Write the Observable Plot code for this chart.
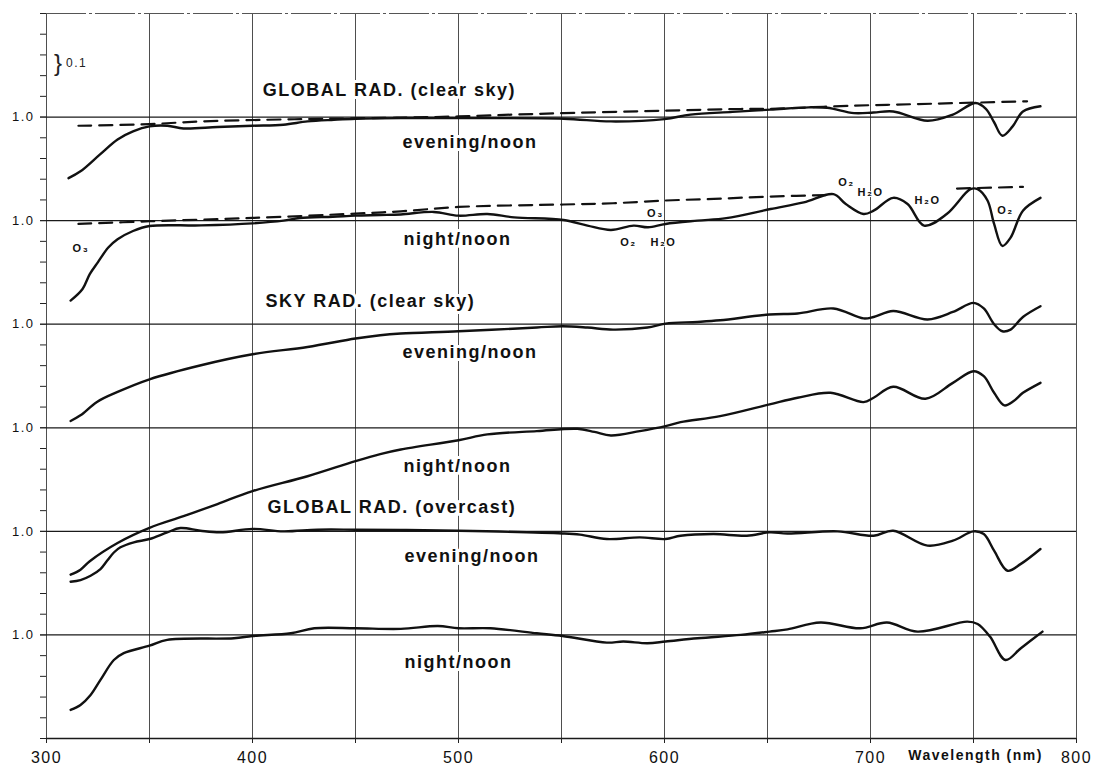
<!DOCTYPE html>
<html>
<head>
<meta charset="utf-8">
<script src="https://cdn.jsdelivr.net/npm/d3@7"></script>
<script src="https://cdn.jsdelivr.net/npm/@observablehq/plot@0.6"></script>
<style>
  html, body { margin: 0; padding: 0; background: #fff; }
  #chart svg { display: block; }
</style>
</head>
<body>
<div id="chart"></div>
<script>
// ---- Data (wavelength nm, ratio) ----
// Panel 1: GLOBAL RAD. (clear sky) evening/noon
const globalClearEvening = [[310.7,0.705],[316.5,0.738],[326,0.82],[334.5,0.892],[342,0.931],[350,0.955],[358.7,0.958],[366.5,0.945],[383,0.952],[400,0.958],[415,0.963],[426.7,0.979],[439.5,0.987],[450,0.992],[472,0.995],[500,0.995],[551,0.992],[574,0.979],[600,0.99],[612.6,1.012],[633,1.025],[651.5,1.036],[670,1.047],[679,1.045],[692,1.019],[701.5,1.022],[711,1.027],[727.7,0.982],[740,1.012],[751,1.068],[756,1.04],[760,0.975],[764,0.91],[769,0.955],[774,1.027],[782.5,1.052]];
const globalClearEveningDashed = [[315.5,0.958],[350,0.966],[375,0.979],[407,0.987],[436,0.992],[470,0.997],[500,1.003],[527,1.012],[551,1.019],[600,1.031],[637,1.039],[651,1.04],[692,1.055],[732,1.065],[776,1.076]];
// Panel 2: night/noon
const globalClearNight = [[311.7,0.614],[317.5,0.67],[321,0.742],[325,0.8],[330,0.87],[334.5,0.91],[342,0.95],[350,0.974],[375,0.977],[400,0.987],[415,1.0],[423,1.013],[439,1.019],[450,1.024],[462,1.027],[472,1.03],[488,1.042],[500,1.024],[514,1.032],[527,1.016],[551,1.003],[562.6,0.976],[574,0.955],[585,0.976],[592,0.968],[600.5,0.984],[616,1.0],[630,1.012],[651.5,1.056],[667.6,1.088],[682,1.128],[688,1.08],[696.6,1.032],[701.5,1.048],[711,1.11],[718,1.08],[726,0.976],[737,1.032],[748.5,1.152],[752,1.152],[756.8,1.097],[760,0.984],[764,0.878],[768,0.918],[774,1.048],[782.5,1.11]];
const globalClearNightDashed = [[315.5,0.984],[350,0.997],[400,1.013],[450,1.034],[472,1.045],[500,1.066],[551,1.078],[575,1.084],[600,1.097],[624,1.105],[651,1.116],[682,1.124],[712,NaN],[742,1.155],[774,1.163]];
// Panel 3: SKY RAD. (clear sky) evening/noon
const skyClearEvening = [[311.7,0.533],[316.5,0.56],[324.5,0.625],[334.5,0.673],[350,0.734],[375,0.802],[400,0.855],[426.7,0.89],[450,0.931],[462,0.947],[472,0.955],[500,0.966],[538,0.984],[550.5,0.99],[562.6,0.984],[575,0.974],[591.7,0.984],[600.5,1.003],[616,1.011],[627,1.019],[651,1.047],[664.6,1.052],[682,1.076],[696.6,1.028],[701.5,1.035],[711,1.064],[727.7,1.023],[740,1.059],[750,1.103],[755,1.076],[760,1.0],[764,0.966],[768,0.974],[774,1.035],[782.5,1.087]];
// Panel 4: night/noon
const skyClearNight = [[311.7,0.291],[316.5,0.315],[321,0.356],[334.5,0.444],[350,0.517],[366.5,0.573],[383,0.632],[400,0.694],[426.7,0.766],[450,0.839],[462,0.873],[472,0.895],[500,0.94],[514,0.968],[538,0.984],[557.7,0.995],[566,0.98],[574,0.963],[588,0.984],[600.5,1.008],[607.8,1.027],[627,1.056],[651,1.113],[664.6,1.145],[680.6,1.169],[696.6,1.124],[701.5,1.145],[711,1.198],[726.7,1.14],[740,1.217],[750,1.273],[755,1.249],[760,1.169],[765,1.108],[769.5,1.129],[774,1.169],[782.5,1.217]];
// Panel 5: GLOBAL RAD. (overcast) evening/noon
const globalOvercastEvening = [[311.7,0.757],[316.5,0.765],[321.4,0.786],[326.2,0.818],[329.4,0.858],[332.7,0.898],[335.9,0.923],[342.4,0.947],[350,0.963],[358.6,0.995],[365,1.016],[374.7,1.003],[384.4,0.995],[400,1.012],[415,1.0],[431.5,1.008],[450,1.008],[472,1.007],[500,1.003],[550.5,0.99],[559,0.984],[572,0.963],[588,0.971],[600.5,0.963],[607.8,0.979],[623.8,0.987],[640,0.979],[651,0.995],[659.7,0.99],[684,1.0],[701.5,0.979],[711,1.003],[727.7,0.931],[740,0.955],[750,1.0],[755,0.987],[760,0.907],[766.5,0.81],[773,0.843],[782.5,0.915]];
// Panel 6: night/noon
const globalOvercastNight = [[311.7,0.638],[316.5,0.662],[321.4,0.71],[326.2,0.783],[332.7,0.879],[337.5,0.912],[350,0.948],[358.6,0.976],[391,0.984],[400,0.995],[418.6,1.008],[430,1.032],[450,1.032],[472,1.029],[490,1.043],[500,1.032],[515.5,1.032],[538,1.008],[550.5,0.995],[572,0.963],[580,0.968],[591.7,0.96],[600.5,0.968],[616,0.984],[637,1.0],[651,1.016],[659.7,1.027],[675.7,1.06],[695,1.032],[708,1.06],[722.8,1.016],[747,1.064],[752,1.053],[758,0.992],[765.5,0.879],[773,0.936],[783.5,1.016]];

const wavelengthLabels = [300, 400, 500, 600, 700, 800];
const gridWavelengths = [300, 350, 400, 450, 500, 550, 600, 650, 700, 750, 800];
const baselineLabel = "1.0";
const panelCount = 6;

// ---- Layout of the stacked panels (each panel shifted by 0.5) ----
const step = 0.5;
const solidSeries = [globalClearEvening, globalClearNight, skyClearEvening, skyClearNight, globalOvercastEvening, globalOvercastNight];
const dashedSeries = [[0, globalClearEveningDashed], [1, globalClearNightDashed]];

const solidRows = solidSeries.flatMap((s, k) => s.map(([wl, v]) => ({k, wl, y: v - step * k})));
const dashedRows = dashedSeries.flatMap(([k, s]) => s.map(([wl, v]) => ({k, wl, y: v - step * k})));
const baselines = d3.range(panelCount).map(k => 1 - step * k);
const yTop = 1 + step, yBottom = 1 - step * panelCount;
const minorTicks = d3.range(Math.round(yBottom * 10), Math.round(yTop * 10) + 1).map(i => i / 10);

// Labels (positions in data units: wavelength, stacked ratio)
const titleLabels = [
  {x: 405, y: 1.128, text: "GLOBAL RAD. (clear sky)"},
  {x: 406.3, y: 0.113, text: "SKY RAD. (clear sky)"},
  {x: 407.3, y: -0.883, text: "GLOBAL RAD. (overcast)"}
];
const ratioLabels = [
  {x: 472.8, y: 0.879, text: "evening/noon"},
  {x: 473.3, y: 0.411, text: "night/noon"},
  {x: 472.8, y: -0.135, text: "evening/noon"},
  {x: 473.3, y: -0.684, text: "night/noon"},
  {x: 473.8, y: -1.119, text: "evening/noon"},
  {x: 473.8, y: -1.632, text: "night/noon"}
];
const absorberLabels = [
  {x: 316.7, y: 0.365, text: "O₃"},
  {x: 582.5, y: 0.395, text: "O₂"},
  {x: 599.5, y: 0.394, text: "H₂O"},
  {x: 595.6, y: 0.536, text: "O₃"},
  {x: 688.3, y: 0.685, text: "O₂"},
  {x: 700, y: 0.637, text: "H₂O"},
  {x: 727.7, y: 0.597, text: "H₂O"},
  {x: 765.5, y: 0.549, text: "O₂"}
];

const font = "'Liberation Sans', Arial, Helvetica, sans-serif";

const chart = Plot.plot({
  width: 1095,
  height: 768,
  marginLeft: 46,
  marginRight: 19,
  marginTop: 13,
  marginBottom: 30,
  style: {fontFamily: font, background: "#fff", color: "#111", letterSpacing: "1.5px", overflow: "visible"},
  x: {domain: [300, 800], label: null},
  y: {domain: [yBottom, yTop], label: null},
  marks: [
    Plot.ruleX(gridWavelengths, {stroke: "#3a3a3a", strokeWidth: 0.9}),
    Plot.ruleY(baselines, {x1: 300, x2: 800, stroke: "#1a1a1a", strokeWidth: 1.2}),
    Plot.ruleY([yTop], {x1: 300, x2: 800, stroke: "#555", strokeWidth: 1.2, strokeDasharray: "40,3,3,3"}),
    Plot.ruleY([yBottom], {x1: 300, x2: 800, stroke: "#1a1a1a", strokeWidth: 1.3}),
    Plot.axisY(minorTicks, {tickSize: 6, tickFormat: () => "", label: null, stroke: "#222"}),
    Plot.axisY(baselines, {tickSize: 6, tickPadding: 6, tickFormat: () => baselineLabel, label: null, fontSize: 13, stroke: "#222", fill: "#111"}),
    Plot.axisX(gridWavelengths, {tickSize: 5, tickFormat: () => "", label: null, stroke: "#222"}),
    Plot.axisX(wavelengthLabels, {tickSize: 0, tickPadding: 13, fontSize: 16, tickFormat: d => String(d), label: null, fill: "#111"}),
    Plot.text(["Wavelength (nm)"], {x: 751, frameAnchor: "bottom", dy: 21, fontSize: 14, fontWeight: "bold", fill: "#111"}),
    Plot.text(["}"], {x: 306, y: 1.259, fontSize: 24, fontWeight: "normal", fill: "#222"}),
    Plot.text(["0.1"], {x: 309.5, y: 1.259, textAnchor: "start", fontSize: 12, fill: "#222"}),
    Plot.line(dashedRows, {x: "wl", y: "y", z: "k", curve: "catmull-rom", stroke: "#111", strokeWidth: 2.2, strokeDasharray: "13,8"}),
    Plot.line(solidRows, {x: "wl", y: "y", z: "k", curve: "catmull-rom", stroke: "#111", strokeWidth: 2.4}),
    Plot.text(titleLabels, {x: "x", y: "y", text: "text", textAnchor: "start", fontSize: 18, fontWeight: "bold", fill: "#111", stroke: "white", strokeWidth: 6, paintOrder: "stroke"}),
    Plot.text(ratioLabels, {x: "x", y: "y", text: "text", textAnchor: "start", fontSize: 18, fontWeight: "bold", fill: "#111", stroke: "white", strokeWidth: 6, paintOrder: "stroke"}),
    Plot.text(absorberLabels, {x: "x", y: "y", text: "text", fontSize: 11, fontWeight: "bold", fill: "#111", stroke: "white", strokeWidth: 2, paintOrder: "stroke"})
  ]
});
document.getElementById("chart").appendChild(chart);
</script>
</body>
</html>
